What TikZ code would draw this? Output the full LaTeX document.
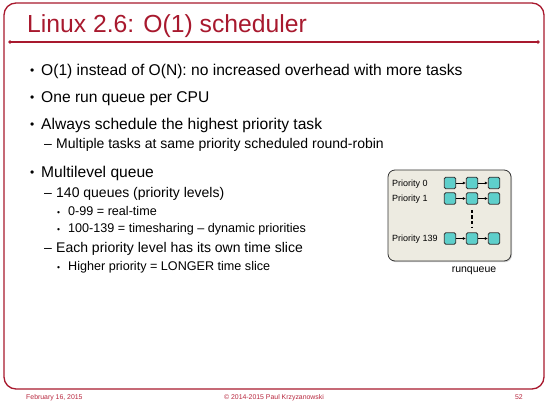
\documentclass[tikz,border=0pt]{standalone}
\usepackage{fontspec}
\setmainfont{Liberation Sans}
\usetikzlibrary{arrows.meta,shadows}
\definecolor{crim}{HTML}{A8192E}
\definecolor{boxbg}{HTML}{EDEBE1}
\definecolor{qfill}{HTML}{5ECFCB}
\definecolor{foot}{HTML}{B8283F}
\tikzset{
  txt/.style={anchor=base west, inner sep=0pt, text=black},
  lvlA/.style={txt, font=\fontsize{15.6}{18}\selectfont},
  lvlB/.style={txt, font=\fontsize{14}{16}\selectfont},
  lvlC/.style={txt, font=\fontsize{12.6}{14}\selectfont},
  bulA/.style={txt, font=\fontsize{12}{14}\selectfont},
  bulC/.style={txt, font=\fontsize{8.5}{10}\selectfont},
  qbox/.style={draw=black!80, line width=0.9pt, fill=qfill, rounded corners=1.5pt, minimum size=11.5pt, inner sep=0pt},
  qarrow/.style={-{Latex[length=3pt,width=3pt]}, line width=0.6pt},
  plabel/.style={anchor=west, inner sep=0pt, font=\fontsize{9}{10}\selectfont},
  foottxt/.style={inner sep=0pt, anchor=base, text=foot, font=\fontsize{6.9}{8}\selectfont}
}
\begin{document}
\begin{tikzpicture}[x=1pt,y=-1pt]
\useasboundingbox (0,0) rectangle (548,403);
\fill[white] (0,0) rectangle (548,403);
% frame
\draw[crim, line width=1.3pt, rounded corners=12pt] (4,3) rectangle (544,389);
\draw[crim, line width=1.2pt] (10,42) -- (538,42);
\fill[crim] (10,42) circle (1.8);
\fill[crim] (538,42) circle (1.8);
\node[anchor=base west, inner sep=0pt, text=crim, font=\fontsize{24.7}{28}\selectfont] (title) at (27,33) {Linux 2.6: O(1) scheduler};
% bullets
\node[bulA] (b1) at (30,74.3) {•};
\node[lvlA] (t1) at (41,75.5) {O(1) instead of O(N): no increased overhead with more tasks};
\node[bulA] (b2) at (30,101.8) {•};
\node[lvlA] (t2) at (41,103) {One run queue per CPU};
\node[bulA] (b3) at (30,128.8) {•};
\node[lvlA] (t3) at (41,130) {Always schedule the highest priority task};
\node[lvlB] (d1) at (44,149) {–};
\node[lvlB] (s1) at (56,149) {Multiple tasks at same priority scheduled round-robin};
\node[bulA] (b4) at (30,176.3) {•};
\node[lvlA] (t4) at (41,177.5) {Multilevel queue};
\node[lvlB] (d2) at (44,197.5) {–};
\node[lvlB] (s2) at (56,197.5) {140 queues (priority levels)};
\node[bulC] (c1) at (57,215) {•};
\node[lvlC] (u1) at (68,215) {0-99 = real-time};
\node[bulC] (c2) at (57,233) {•};
\node[lvlC] (u2) at (68,233) {100-139 = timesharing – dynamic priorities};
\node[lvlB] (d3) at (44,252) {–};
\node[lvlB] (s3) at (56,252) {Each priority level has its own time slice};
\node[bulC] (c3) at (57,270) {•};
\node[lvlC] (u3) at (68,270) {Higher priority = LONGER time slice};
% runqueue
\node[draw=black!80, line width=0.8pt, fill=boxbg, rounded corners=7pt, minimum width=123pt, minimum height=91pt, drop shadow={opacity=0.35, shadow xshift=1pt, shadow yshift=-1.2pt}] (rq) at (449.5,215.5) {};
\node[plabel] (p0) at (392,184) {Priority 0};
\node[plabel] (p1) at (392,199) {Priority 1};
\node[plabel] (p139) at (392,239) {Priority 139};
\foreach \r/\y in {a/183,b/198.5,c/238.5}{
  \node[qbox] (\r1) at (450,\y) {};
  \node[qbox] (\r2) at (472,\y) {};
  \node[qbox] (\r3) at (494,\y) {};
  \draw[qarrow] (\r1) -- (\r2);
  \draw[qarrow] (\r2) -- (\r3);
}
\coordinate (dtop) at (472,210);
\coordinate (dbot) at (472,228);
\draw[line width=1.2pt, dash pattern=on 3.5pt off 2pt] (dtop) -- (dbot);
\node[anchor=base, inner sep=0pt, font=\fontsize{10.5}{12}\selectfont] (rqlabel) at (474,272) {runqueue};
% footer
\node[foottxt, anchor=base west] (f1) at (26,399.5) {February 16, 2015};
\node[foottxt] (f2) at (274,399.5) {© 2014-2015 Paul Krzyzanowski};
\node[foottxt, anchor=base east] (f3) at (523,399.5) {52};
\end{tikzpicture}
\end{document}
